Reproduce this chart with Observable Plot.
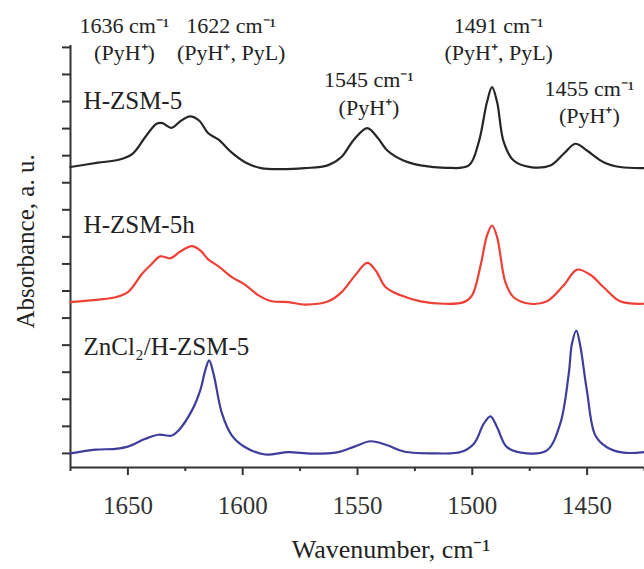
<!DOCTYPE html>
<html><head><meta charset="utf-8">
<script src="https://cdn.jsdelivr.net/npm/d3@7"></script>
<script src="https://cdn.jsdelivr.net/npm/@observablehq/plot@0.6"></script>
<style>body{margin:0;background:#fff} svg{display:block} svg text{font-family:'Liberation Serif','Times New Roman',serif !important; font-variant:normal !important}</style>
</head><body><div id="chart"></div>
<script>
// Axis setup
const xDomain = [1675, 1425];
const yDomain = [-0.52, 15.07];
const majorTicks = [1650, 1600, 1550, 1500, 1450];
const minorTicks = [1675, 1625, 1575, 1525, 1475, 1425];
const yTicks = d3.range(0, 16);

// Series: [wavenumber, absorbance (offset, a.u.)]
const hzsm5 = [[1675,10.58],[1663,10.74],[1654,10.85],[1648,11.07],[1642.5,11.68],[1637.5,12.18],[1635,12.20],[1631,12.03],[1627,12.28],[1623,12.45],[1619,12.30],[1615,11.83],[1610.5,11.59],[1605,11.13],[1599,10.76],[1592,10.54],[1583,10.50],[1573,10.54],[1563,10.64],[1557,10.95],[1551.5,11.6],[1545.7,12.02],[1541.4,11.68],[1537,11.19],[1530,10.82],[1522.5,10.64],[1511,10.55],[1501.5,10.64],[1497.2,11.50],[1493.6,12.98],[1491.4,13.53],[1489.2,12.98],[1486.3,11.50],[1482,10.82],[1474.7,10.58],[1466,10.64],[1460.2,11.07],[1455.1,11.44],[1450.1,11.19],[1442.8,10.76],[1435.6,10.58],[1425,10.54]];
const hzsm5h = [[1675,5.59],[1662.7,5.68],[1655.4,5.77],[1649.7,5.98],[1643.8,6.64],[1639.5,7.01],[1635.9,7.28],[1631.5,7.21],[1627.2,7.46],[1622.1,7.66],[1618.5,7.50],[1614.9,7.16],[1610.5,6.91],[1604.7,6.51],[1598.9,6.23],[1593.1,5.84],[1587.3,5.62],[1580.1,5.59],[1572.8,5.50],[1562.7,5.62],[1556.9,5.96],[1551.3,6.55],[1545.7,7.04],[1542.1,6.76],[1537.7,6.14],[1531.2,5.84],[1522.5,5.62],[1512.4,5.53],[1503.7,5.59],[1500.1,5.84],[1496.4,6.94],[1493.6,8.05],[1491.4,8.42],[1489.2,7.99],[1485.6,6.33],[1482,5.77],[1474.7,5.53],[1467.5,5.62],[1460.2,6.21],[1454.4,6.79],[1448.6,6.60],[1442.8,6.14],[1435.6,5.62],[1425,5.53]];
const zncl2 = [[1675,0.0],[1664.1,0.14],[1655.4,0.17],[1649.7,0.26],[1642.4,0.54],[1636.6,0.69],[1630.8,0.66],[1627.9,0.85],[1622.1,1.59],[1618.5,2.33],[1616.3,3.07],[1614.6,3.44],[1612.7,2.94],[1609,1.47],[1604.7,0.66],[1598.9,0.23],[1590.2,-0.04],[1580.1,0.05],[1569.9,-0.01],[1558.3,0.05],[1551.3,0.25],[1544.3,0.45],[1537,0.30],[1529.8,0.07],[1515.3,0.0],[1505.1,0.05],[1499.3,0.36],[1495,1.10],[1492.1,1.37],[1489.2,0.97],[1484.9,0.23],[1476.2,0.0],[1467.5,0.11],[1461.7,1.10],[1458,2.94],[1456.6,4.05],[1454.7,4.54],[1453,3.99],[1450.1,2.33],[1446.4,0.66],[1441.4,0.23],[1434.1,0.03],[1425,0.05]];

const seriesNames = ["H-ZSM-5", "H-ZSM-5h", "ZnCl₂/H-ZSM-5"];
const seriesColors = ["#262626", "#ee4036", "#3d3d9c"];
const seriesLabelX = [1669.3, 1669.3, 1669.3];
const seriesLabelY = [12.74, 8.16, 3.62];

const peakLabels = ["1636 cm⁻¹\n(PyH⁺)", "1622 cm⁻¹\n(PyH⁺, PyL)", "1545 cm⁻¹\n(PyH⁺)", "1491 cm⁻¹\n(PyH⁺, PyL)", "1455 cm⁻¹\n(PyH⁺)"];
const peakLabelX = [1651.5, 1605, 1545, 1488.5, 1449];
const peakLabelY = [14.52, 14.52, 12.52, 14.52, 12.19];

const xTitle = "Wavenumber, cm⁻¹";
const yTitle = "Absorbance, a. u.";

const series = [hzsm5, hzsm5h, zncl2];
const seriesLabelData = seriesNames.map((n, i) => ({x: seriesLabelX[i], y: seriesLabelY[i], text: n}));
const peakData = peakLabels.map((t, i) => ({x: peakLabelX[i], y: peakLabelY[i], text: t}));

const axisColor = "#333";
const serif = "'Liberation Serif', 'Times New Roman', serif";
const noLabel = () => "";
const chart = Plot.plot({
  width: 644, height: 569,
  marginLeft: 70, marginRight: 0, marginTop: 45, marginBottom: 102,
  x: {domain: xDomain},
  y: {domain: yDomain},
  style: {fontFamily: serif, background: "#fff", color: axisColor},
  marks: [
    Plot.ruleX([xDomain[0]], {stroke: axisColor, strokeWidth: 2}),
    Plot.ruleY([yDomain[0]], {stroke: axisColor, strokeWidth: 2}),
    Plot.axisY(yTicks, {tickSize: 8, tickFormat: noLabel, label: null, stroke: axisColor, strokeWidth: 2}),
    Plot.axisX(minorTicks, {tickSize: 4, tickFormat: noLabel, label: null, stroke: axisColor, strokeWidth: 2}),
    Plot.axisX(majorTicks, {tickSize: 8, tickPadding: 21, fontSize: 25, fontFamily: serif, tickFormat: d3.format("d"), stroke: axisColor, strokeWidth: 2, label: null}),
    ...series.map((s, i) => Plot.line(s, {x: d => d[0], y: d => d[1], stroke: seriesColors[i], strokeWidth: 2.2, curve: "catmull-rom"})),
    Plot.text(seriesLabelData, {x: "x", y: "y", text: "text", textAnchor: "start", lineAnchor: "bottom", fontSize: 25, fontFamily: serif, fill: "#222"}),
    Plot.text(peakData, {x: "x", y: "y", text: "text", textAnchor: "middle", lineAnchor: "bottom", lineHeight: 1.23, fontSize: 22, fontFamily: serif, fill: "#222"}),
    Plot.text([xTitle], {x: 1535.4, frameAnchor: "bottom", dy: 90, text: d => d, lineAnchor: "bottom", fontSize: 26, fontFamily: serif, fill: "#222"}),
    Plot.text([yTitle], {y: 7.83, frameAnchor: "left", dx: -37, rotate: -90, text: d => d, lineAnchor: "bottom", textAnchor: "middle", fontSize: 25, fontFamily: serif, fill: "#222"})
  ]
});
document.getElementById("chart").appendChild(chart);
</script>
</body></html>
